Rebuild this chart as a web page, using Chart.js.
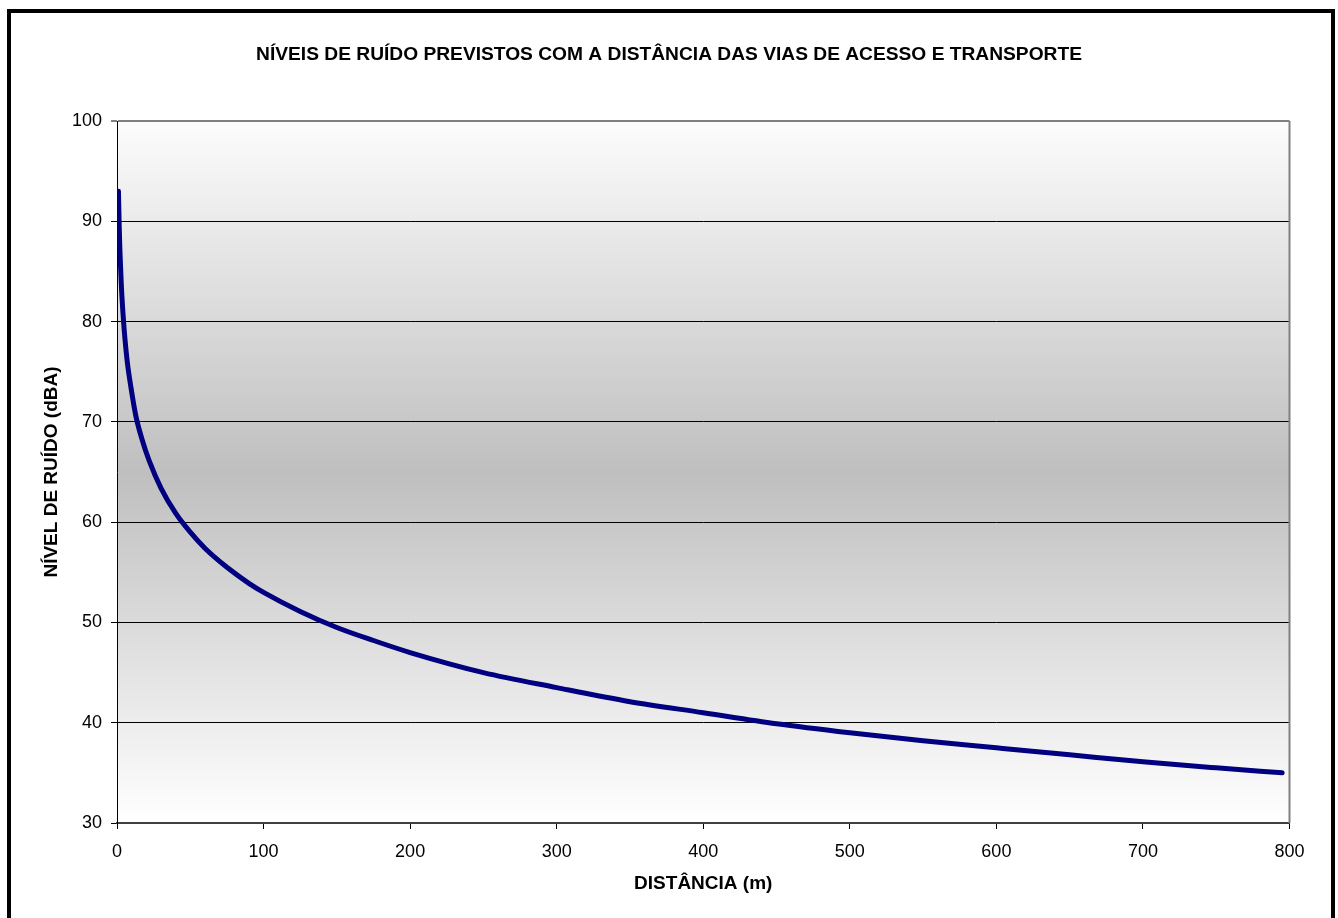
<!DOCTYPE html>
<html>
<head>
<meta charset="utf-8">
<title>Níveis de ruído</title>
<script src="https://cdn.jsdelivr.net/npm/chart.js@4/dist/chart.umd.min.js"></script>
<style>
    html, body { margin: 0; padding: 0; background: #fff; overflow: hidden; }
    #frame {
        position: absolute; left: 7px; top: 9px;
        width: 1320px; height: 930px;
        border: 4px solid #000;
    }
    #chart { position: absolute; left: 0; top: 0; }
</style>
</head>
<body>
<div id="frame"></div>
<canvas id="chart" width="1338" height="918"></canvas>
<script>
// values
const distances = [1, 1.5, 2, 3, 4, 5, 7, 10, 13, 17, 22, 30, 40, 50, 60, 75, 90, 100, 125, 150, 175, 200, 250, 300, 350, 400, 450, 500, 550, 600, 650, 700, 750, 795];
const levels    = [93, 89.5, 87, 83.5, 81, 79, 76, 73, 70.5, 68.3, 66.1, 63.4, 60.9, 59, 57.4, 55.5, 53.9, 53, 51.1, 49.5, 48.2, 47, 45, 43.5, 42.1, 41, 39.9, 39, 38.2, 37.5, 36.8, 36.1, 35.5, 35];

const xTicks = [0, 100, 200, 300, 400, 500, 600, 700, 800];
const yTicks = [30, 40, 50, 60, 70, 80, 90, 100];

const chartTitle = 'NÍVEIS DE RUÍDO PREVISTOS COM A DISTÂNCIA DAS VIAS DE ACESSO E TRANSPORTE';
const xTitle = 'DISTÂNCIA (m)';
const yTitle = 'NÍVEL DE RUÍDO (dBA)';

const FONT = 'Arial, "Liberation Sans", sans-serif';

// gray band in the middle of the plot area, white at top and bottom
const plotBackground = {
    id: 'plotBackground',
    beforeDraw(chart) {
        const { ctx, chartArea: a } = chart;
        const g = ctx.createLinearGradient(0, a.top, 0, a.bottom);
        g.addColorStop(0, '#fcfcfc');
        g.addColorStop(0.5, '#bfbfbf');
        g.addColorStop(1, '#ffffff');
        ctx.save();
        ctx.fillStyle = g;
        ctx.fillRect(a.left, a.top, a.right - a.left, a.bottom - a.top);
        ctx.restore();
    },
    afterDatasetsDraw(chart) {
        const { ctx, chartArea: a } = chart;
        ctx.save();
        ctx.strokeStyle = '#808080';
        ctx.lineWidth = 2;
        ctx.beginPath();
        ctx.moveTo(a.right, a.top);
        ctx.lineTo(a.right, a.bottom);
        ctx.stroke();
        ctx.restore();
    }
};

const points = distances.map((d, i) => ({ x: d, y: levels[i] }));

new Chart(document.getElementById('chart'), {
    type: 'line',
    data: {
        datasets: [{
            label: 'Nível de ruído',
            data: points,
            borderColor: '#000080',
            borderWidth: 5,
            borderCapStyle: 'round',
            pointRadius: 0,
            cubicInterpolationMode: 'monotone',
            fill: false
        }]
    },
    options: {
        responsive: false,
        animation: false,
        layout: { padding: 0 },
        plugins: {
            legend: { display: false },
            tooltip: { enabled: false },
            title: {
                display: true,
                text: chartTitle,
                color: '#000',
                font: { family: FONT, size: 19.2, weight: 'bold' },
                padding: { top: 43, bottom: 55 }
            }
        },
        scales: {
            x: {
                type: 'linear',
                min: 0,
                max: 800,
                afterBuildTicks: (scale) => { scale.ticks = xTicks.map(v => ({ value: v })); },
                afterFit: (scale) => { scale.height = 95; },
                ticks: {
                    color: '#000',
                    font: { family: FONT, size: 18 },
                    padding: 12,
                    maxRotation: 0
                },
                grid: { drawOnChartArea: false, tickLength: 6, color: '#000' },
                border: { color: '#404040', width: 2 },
                title: {
                    display: true,
                    text: xTitle,
                    color: '#000',
                    font: { family: FONT, size: 19, weight: 'bold' },
                    padding: { top: 0, bottom: 23 }
                }
            },
            y: {
                min: 30,
                max: 100,
                afterBuildTicks: (scale) => { scale.ticks = yTicks.map(v => ({ value: v })); },
                afterFit: (scale) => { scale.width = 117; },
                ticks: {
                    color: '#000',
                    font: { family: FONT, size: 18 },
                    padding: 9
                },
                grid: {
                    tickLength: 6,
                    color: (c) => (c.tick && c.tick.value === 100 ? '#808080' : '#000'),
                    lineWidth: (c) => (c.tick && c.tick.value === 100 ? 2 : 1)
                },
                border: { color: '#000', width: 1 },
                title: {
                    display: true,
                    text: yTitle,
                    color: '#000',
                    font: { family: FONT, size: 19, weight: 'bold' },
                    padding: { top: 40, bottom: 0 }
                }
            },
            // empty right-hand strip so the title centres on the whole page
            spacer: {
                position: 'right',
                ticks: { display: false },
                grid: { display: false },
                border: { display: false },
                afterFit: (scale) => { scale.width = 48.5; }
            }
        }
    },
    plugins: [plotBackground]
});
</script>
</body>
</html>
